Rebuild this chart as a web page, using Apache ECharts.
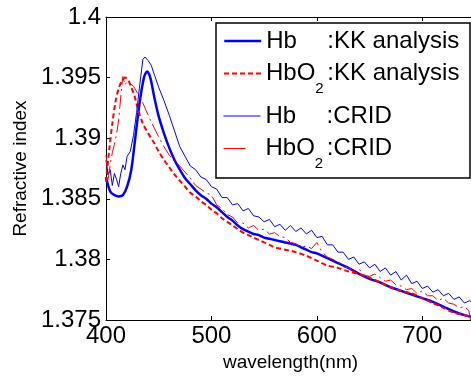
<!DOCTYPE html>
<html>
<head>
<meta charset="utf-8">
<script src="https://cdn.jsdelivr.net/npm/echarts@6/dist/echarts.min.js"></script>
<style>html,body{margin:0;padding:0;background:#fff;}#c{width:471px;height:376px;}</style>
</head>
<body>
<div id="c"></div>
<script>
// ---- data (wavelength in nm, refractive index) ----
const hbKK_x = [400,404,408,412,416,420,424,428,432,436,439,442,446,450,455,460,465,470,475,480,485,490,495,500,505,510,515,520,525,530,535,540,545,550,555,560,565,570,575,580,585,590,595,600,610,620,630,640,650,660,670,680,690,700,710,720,730,740,750];
const hbKK_y = [1.3868,1.3856,1.3853,1.3852,1.3853,1.3860,1.3874,1.3902,1.3930,1.3950,1.3955,1.3950,1.3933,1.3918,1.3904,1.3892,1.3882,1.3874,1.3867,1.3862,1.3857,1.3853,1.3850,1.3846,1.3843,1.3839,1.3835,1.3832,1.3828,1.3825,1.3823,1.3821,1.3820,1.3818,1.3817,1.3816,1.3815,1.3814,1.3813,1.3812,1.3810,1.3808,1.3806,1.3805,1.3801,1.3797,1.3793,1.3788,1.3784,1.3781,1.3777,1.3774,1.3771,1.3768,1.3765,1.3761,1.3757,1.3754,1.3752];

const hbo2KK_x = [400,403,406,409,412,415,418,421,424,427,430,435,440,445,450,455,460,465,470,475,480,485,490,495,500,505,510,515,520,525,530,535,540,545,550,555,560,565,570,575,580,590,600,610,620,630,640,650,660,670,680,690,700,710,720,730,740,750];
const hbo2KK_y = [1.3864,1.3890,1.3912,1.3930,1.3941,1.3947,1.3950,1.3948,1.3942,1.3935,1.3925,1.3912,1.3904,1.3897,1.3889,1.3882,1.3876,1.3870,1.3865,1.3860,1.3855,1.3852,1.3848,1.3845,1.3841,1.3838,1.3834,1.3831,1.3828,1.3825,1.3822,1.3820,1.3818,1.3816,1.3814,1.3812,1.3810,1.3809,1.3808,1.3807,1.3806,1.3803,1.3799,1.3795,1.3793,1.3790,1.3788,1.3785,1.3781,1.3777,1.3774,1.3772,1.3768,1.3764,1.3760,1.3756,1.3754,1.3752];

const hbCRID_x = [400,402,404,406,408,410,412,414,416,418,420,423,426,429,432,435,437,440,443,446,450,455,460,465,470,475,480,485,490,495,500,505,510,515,520,525,530,535,540,545,550,555,560,565,570,575,580,585,590,595,600,605,610,615,620,625,630,635,640,645,650,655,660,665,670,675,680,685,690,695,700,705,710,715,720,725,730,735,740,745,750];
const hbCRID_y = [1.3882,1.3870,1.3874,1.3861,1.3871,1.3866,1.3860,1.3871,1.3878,1.3874,1.3885,1.3889,1.3902,1.3921,1.3944,1.3965,1.3967,1.3964,1.3960,1.3952,1.3942,1.3931,1.3919,1.3906,1.3893,1.3885,1.3877,1.3874,1.3868,1.3866,1.3860,1.3858,1.3851,1.3851,1.3845,1.3846,1.3840,1.3842,1.3836,1.3835,1.3831,1.3833,1.3827,1.3829,1.3824,1.3828,1.3823,1.3826,1.3821,1.3824,1.3818,1.3819,1.3812,1.3812,1.3806,1.3806,1.3800,1.3802,1.3796,1.3798,1.3793,1.3796,1.3790,1.3793,1.3787,1.3790,1.3783,1.3787,1.3780,1.3782,1.3776,1.3778,1.3773,1.3775,1.3770,1.3772,1.3767,1.3769,1.3764,1.3766,1.3762];

const hbo2CRID_x = [400,402,404,406,408,410,412,414,416,418,420,423,426,430,434,438,442,446,450,455,460,465,470,475,480,485,490,495,500,505,510,515,520,525,530,535,540,545,550,555,560,565,570,575,580,585,590,595,600,605,610,615,620,625,630,635,640,645,650,655,660,665,670,675,680,685,690,695,700,705,710,715,720,725,730,735,740,744,746,750];
const hbo2CRID_y = [1.3886,1.3866,1.3878,1.3888,1.3895,1.3903,1.3915,1.3934,1.3951,1.3944,1.3947,1.3945,1.3943,1.3937,1.3931,1.3923,1.3915,1.3908,1.3901,1.3893,1.3886,1.3881,1.3877,1.3872,1.3867,1.3861,1.3858,1.3855,1.3853,1.3845,1.3842,1.3837,1.3835,1.3830,1.3830,1.3826,1.3828,1.3824,1.3825,1.3821,1.3822,1.3819,1.3818,1.3814,1.3813,1.3810,1.3811,1.3809,1.3814,1.3806,1.3802,1.3800,1.3798,1.3794,1.3793,1.3790,1.3792,1.3787,1.3786,1.3788,1.3785,1.3782,1.3783,1.3779,1.3778,1.3775,1.3776,1.3772,1.3774,1.3770,1.3770,1.3766,1.3768,1.3764,1.3763,1.3760,1.3761,1.3758,1.3749,1.3752];

const xTicks = {min: 400, max: 750, interval: 100};
const yTicks = {min: 1.375, max: 1.4, interval: 0.005};

const seriesNames = ['Hb:KK', 'HbO2:KK', 'Hb:CRID', 'HbO2:CRID'];
const legendLabels = {
  'Hb:KK': '{a|Hb}{b|:KK analysis}',
  'HbO2:KK': '{c|HbO}{s|2}{b|:KK analysis}',
  'Hb:CRID': '{a|Hb}{b|:CRID}',
  'HbO2:CRID': '{c|HbO}{s|2}{b|:CRID}'
};

function zip(xs, ys) { return xs.map((x, i) => [x, ys[i]]); }

const FONT = "'Liberation Sans', Arial, sans-serif";
const rich = {
  a: {fontSize: 24, fontFamily: FONT, color: '#000', width: 61, lineHeight: 24, verticalAlign: 'top'},
  c: {fontSize: 24, fontFamily: FONT, color: '#000', lineHeight: 24, verticalAlign: 'top'},
  b: {fontSize: 24, fontFamily: FONT, color: '#000', lineHeight: 24, verticalAlign: 'top'},
  s: {fontSize: 15, fontFamily: FONT, color: '#000', lineHeight: 15, verticalAlign: 'top', padding: [20, 0, 0, 0], width: 12}
};

function legendAt(name, top, lineStyle) {
  return {
    data: [{name: name, lineStyle: lineStyle}], left: 223, top: top, orient: 'vertical', padding: 0,
    itemWidth: 37, itemHeight: 14, itemGap: 0, z: 20,
    itemStyle: {opacity: 0},
    formatter: (n) => legendLabels[n],
    textStyle: {rich: rich, fontSize: 24, fontFamily: FONT, color: '#000'},
    selectedMode: false
  };
}

const chart = echarts.init(document.getElementById('c'), null, {renderer: 'canvas'});
chart.setOption({
  animation: false,
  backgroundColor: '#fff',
  grid: {left: 106, top: 17, width: 369, height: 303, outerBoundsMode: 'none', containLabel: false},
  xAxis: [{
    type: 'value', min: xTicks.min, max: xTicks.max, interval: xTicks.interval,
    name: 'wavelength(nm)', nameLocation: 'middle', nameGap: 27,
    nameTextStyle: {fontSize: 19, fontFamily: FONT, color: '#000'},
    axisLine: {lineStyle: {color: '#000', width: 1}},
    axisTick: {inside: true, length: 4, lineStyle: {color: '#000'}},
    axisLabel: {fontSize: 24, fontFamily: FONT, color: '#000', margin: 4, showMaxLabel: false, hideOverlap: false},
    splitLine: {show: false}
  }, {
    type: 'value', position: 'top', min: xTicks.min, max: xTicks.max, interval: xTicks.interval,
    axisLine: {show: true, lineStyle: {color: '#000', width: 1}},
    axisTick: {show: true, inside: true, length: 4, lineStyle: {color: '#000'}},
    axisLabel: {show: false}, splitLine: {show: false}
  }],
  yAxis: [{
    type: 'value', min: yTicks.min, max: yTicks.max, interval: yTicks.interval,
    name: 'Refractive index', nameLocation: 'middle', nameGap: 73, nameRotate: 90,
    nameTextStyle: {fontSize: 19, fontFamily: FONT, color: '#000'},
    axisLine: {show: true, lineStyle: {color: '#000', width: 1}},
    axisTick: {show: true, inside: true, length: 4, lineStyle: {color: '#000'}},
    axisLabel: {fontSize: 24, fontFamily: FONT, color: '#000', margin: 5,
      formatter: (v) => String(Math.round(v * 1000) / 1000)},
    splitLine: {show: false}
  }],
  graphic: [{
    type: 'rect', z: 15, shape: {x: 216, y: 23, width: 254, height: 155},
    style: {fill: '#fff', stroke: '#000', lineWidth: 1.5}
  }],
  legend: [
    legendAt(seriesNames[0], 29, {width: 2.5, color: '#0000ff', type: 'solid'}),
    legendAt(seriesNames[1], 61.5, {width: 2, color: '#ff0000', type: [5, 3]}),
    legendAt(seriesNames[2], 104, {width: 1, color: '#0000ff', type: 'solid'}),
    legendAt(seriesNames[3], 136.5, {width: 1, color: '#ff0000', type: [22, 20]})
  ],
  series: [
    {name: seriesNames[0], type: 'line', data: zip(hbKK_x, hbKK_y), showSymbol: false, symbol: 'none', smooth: 0.3,
      lineStyle: {color: '#0000ff', width: 2.5}, itemStyle: {color: '#0000ff'}, z: 2},
    {name: seriesNames[1], type: 'line', data: zip(hbo2KK_x, hbo2KK_y), showSymbol: false, symbol: 'none', smooth: 0.3,
      lineStyle: {color: '#ff0000', width: 2, type: [5, 3]}, itemStyle: {color: '#ff0000'}, z: 3},
    {name: seriesNames[2], type: 'line', data: zip(hbCRID_x, hbCRID_y), showSymbol: false, symbol: 'none',
      lineStyle: {color: '#0000ff', width: 1}, itemStyle: {color: '#0000ff'}, z: 4},
    {name: seriesNames[3], type: 'line', data: zip(hbo2CRID_x, hbo2CRID_y), showSymbol: false, symbol: 'none',
      lineStyle: {color: '#ff0000', width: 1, type: [14, 4, 2, 4]}, itemStyle: {color: '#ff0000'}, z: 5}
  ]
});
</script>
</body>
</html>
